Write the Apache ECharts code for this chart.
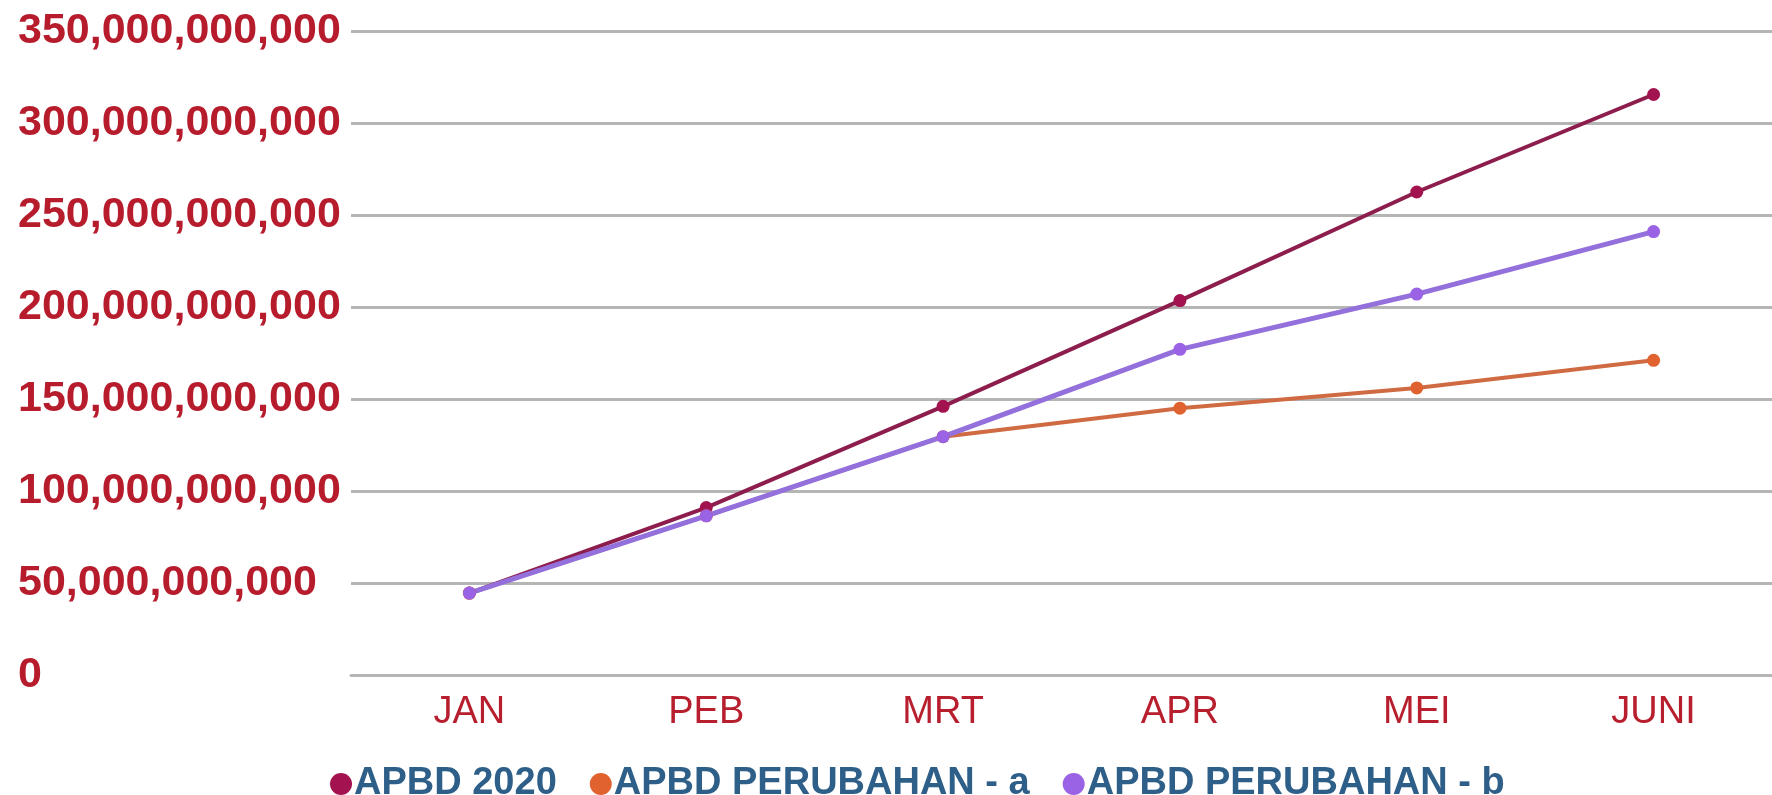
<!DOCTYPE html>
<html>
<head>
<meta charset="utf-8">
<script src="https://cdn.jsdelivr.net/npm/echarts@6/dist/echarts.min.js"></script>
<style>
html,body{margin:0;padding:0;background:#fff;}
#chart{width:1772px;height:795px;}
</style>
</head>
<body>
<div id="chart"></div>
<script>
const categories = ['JAN', 'PEB', 'MRT', 'APR', 'MEI', 'JUNI'];
const seriesNames = ['APBD 2020', 'APBD PERUBAHAN - a', 'APBD PERUBAHAN - b'];
const apbd2020 = [44500000000, 91000000000, 146000000000, 203500000000, 262500000000, 315500000000];
const perubahanA = [44500000000, 86500000000, 129500000000, 145000000000, 156000000000, 171000000000];
const perubahanB = [44500000000, 86500000000, 129500000000, 177000000000, 207000000000, 241000000000];
const yMin = 0, yMax = 350000000000, yStep = 50000000000;

const FONT = '"Liberation Sans", Arial, sans-serif';
const chart = echarts.init(document.getElementById('chart'), null, {renderer: 'canvas'});

function mk(name, data, lineColor, markColor, lw) {
  return {
    name: name, type: 'line', data: data,
    symbol: 'circle', symbolSize: 13,
    lineStyle: {color: lineColor, width: lw},
    itemStyle: {color: markColor},
    emphasis: {disabled: true},
    animation: false
  };
}

chart.setOption({
  backgroundColor: '#ffffff',
  animation: false,
  grid: {left: 351, right: -13, top: 31, bottom: 120, containLabel: false},
  legend: {
    data: seriesNames,
    left: 325, top: 760,
    icon: 'circle', itemWidth: 22, itemHeight: 22, itemGap: 33,
    textStyle: {fontFamily: FONT, fontSize: 38, fontWeight: 'bold', color: '#2d5f88', padding: [0,0,0,-3]}
  },
  xAxis: {
    type: 'category', data: categories, boundaryGap: true,
    axisLine: {show: true, lineStyle: {color: '#b5b5b5', width: 3}},
    axisTick: {show: false},
    axisLabel: {fontFamily: FONT, fontSize: 38, color: '#b81f2e', margin: 19}
  },
  yAxis: {
    type: 'value', min: yMin, max: yMax, interval: yStep,
    axisLine: {show: false}, axisTick: {show: false},
    splitLine: {lineStyle: {color: '#b5b5b5', width: 3}},
    axisLabel: {
      fontFamily: FONT, fontSize: 43, fontWeight: 'bold', color: '#b71c2c',
      align: 'left', margin: 333,
      formatter: v => v.toLocaleString('en-US')
    }
  },
  series: [
    mk(seriesNames[0], apbd2020, '#8c1d4c', '#a3134f', 4),
    mk(seriesNames[1], perubahanA, '#cf6a42', '#e0622e', 4),
    mk(seriesNames[2], perubahanB, '#9370db', '#9a62e4', 5)
  ]
});
</script>
</body>
</html>
